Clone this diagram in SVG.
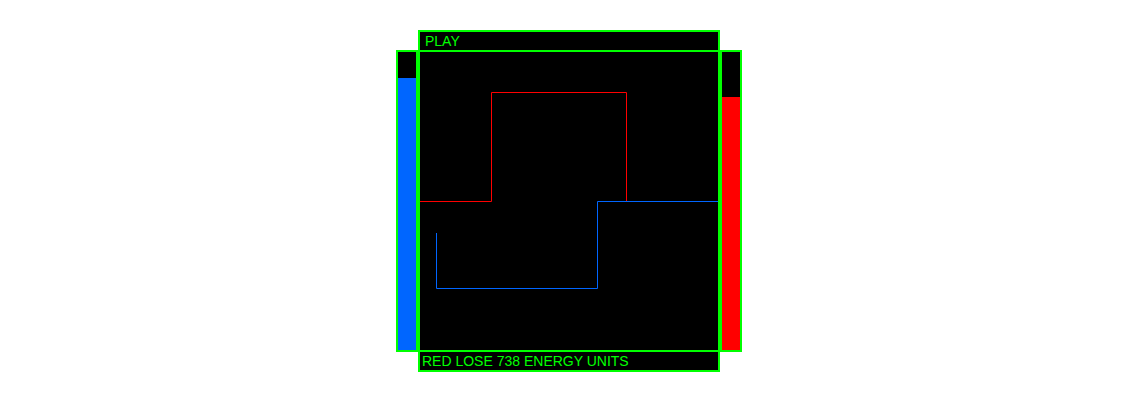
<svg xmlns="http://www.w3.org/2000/svg" width="1139" height="403" viewBox="0 0 1139 403">
<style>
.frame{fill:#000;stroke:#00ff00;stroke-width:2}
.lbl{font-family:"Liberation Sans",Arial,sans-serif;font-size:14px;fill:#00ff00}
.trail{fill:none;stroke-width:1}
</style>
<rect width="1139" height="403" fill="#fff"/>
<g id="left-bar">
<rect class="frame" x="397" y="51" width="20" height="300"/>
<rect x="398" y="78" width="18" height="272" fill="#0066ff"/>
</g>
<g id="right-bar">
<rect class="frame" x="721" y="51" width="20" height="300"/>
<rect x="722" y="97" width="18" height="253" fill="#ff0000"/>
</g>
<g id="top-bar">
<rect class="frame" x="419" y="31" width="300" height="20"/>
<text class="lbl" x="425" y="46">PLAY</text>
</g>
<g id="arena">
<rect class="frame" x="419" y="51" width="300" height="300"/>
</g>
<g id="bottom-bar">
<rect class="frame" x="419" y="351" width="300" height="20"/>
<text class="lbl" x="422" y="366">RED LOSE 738 ENERGY UNITS</text>
</g>
<g id="connectors">
<path class="trail" stroke="#ff0000" d="M420,201.5 H491.5 V92.5 H626.5 V201.5"/>
<path class="trail" stroke="#0066ff" d="M436.5,233 V288.5 H597.5 V201.5 H718"/>
</g>
</svg>
